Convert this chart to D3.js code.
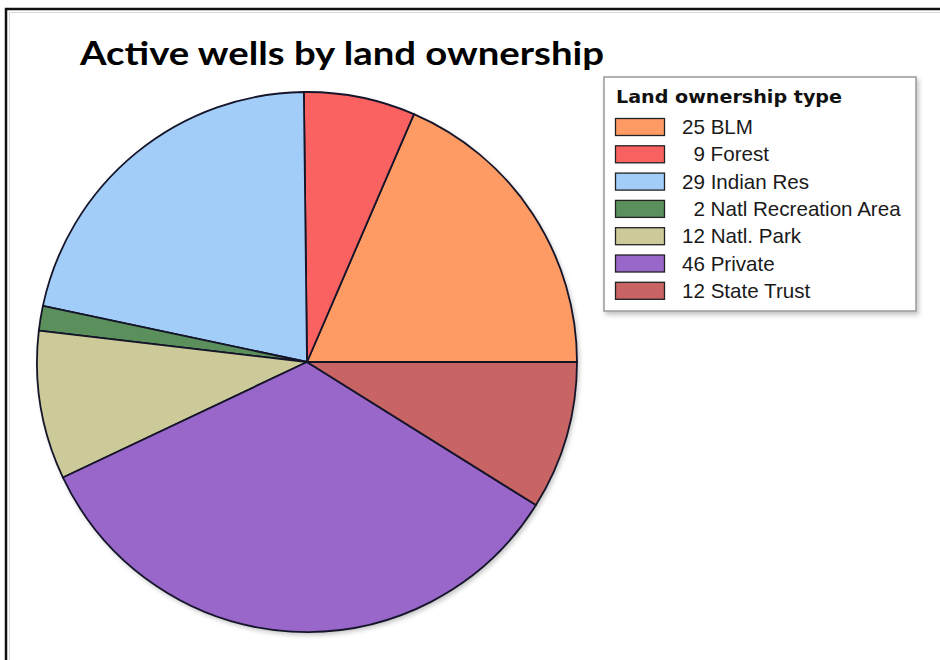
<!DOCTYPE html>
<html>
<head>
<meta charset="utf-8">
<script src="https://cdn.jsdelivr.net/npm/d3@7"></script>
<style>
  html, body { margin: 0; padding: 0; background: #fff; }
  svg { display: block; }
</style>
</head>
<body>
<svg id="chart" width="940" height="660"></svg>
<script>
const title = "Active wells by land ownership";
const legendTitle = "Land ownership type";
const categories = ["BLM", "Forest", "Indian Res", "Natl Recreation Area", "Natl. Park", "Private", "State Trust"];
const values = [25, 9, 29, 2, 12, 46, 12];
const colors = ["#FE9A63", "#FA6262", "#A2CDF9", "#5B8F5C", "#CDCA9A", "#9966CA", "#C96464"];

const svg = d3.select("#chart");
const W = 940, H = 660;

const defs = svg.append("defs");
const f = defs.append("filter").attr("id", "shadow").attr("x", "-10%").attr("y", "-10%").attr("width", "130%").attr("height", "130%");
f.append("feGaussianBlur").attr("in", "SourceAlpha").attr("stdDeviation", 2.5);
f.append("feOffset").attr("dx", 2).attr("dy", 3).attr("result", "ob");
f.append("feComponentTransfer").append("feFuncA").attr("type", "linear").attr("slope", 0.25);
const fm = f.append("feMerge");
fm.append("feMergeNode");
fm.append("feMergeNode").attr("in", "SourceGraphic");

// frame (top and left border)
svg.append("path")
  .attr("d", `M6,${H} L6,9 L${W},9`)
  .attr("fill", "none").attr("stroke", "#111").attr("stroke-width", 2.5);
svg.append("path")
  .attr("d", `M9.5,${H} L9.5,12.5 L${W},12.5`)
  .attr("fill", "none").attr("stroke", "#d8d8d8").attr("stroke-width", 1);

// title
svg.append("text")
  .attr("x", 80).attr("y", 65)
  .attr("font-family", "Lato, 'Open Sans', sans-serif")
  .attr("font-weight", 700)
  .attr("font-size", 32)
  .attr("fill", "#000")
  .attr("textLength", 524)
  .attr("lengthAdjust", "spacingAndGlyphs")
  .text(title);

// pie
const cx = 307, cy = 362, R = 270;
const pie = d3.pie().sort(null).value(d => d)
  .startAngle(Math.PI / 2).endAngle(Math.PI / 2 - 2 * Math.PI);
const arc = d3.arc().innerRadius(0).outerRadius(R);
const g = svg.append("g").attr("transform", `translate(${cx},${cy})`);

g.append("circle").attr("r", R).attr("fill", "#fff").attr("filter", "url(#shadow)");
g.selectAll("path.slice")
  .data(pie(values))
  .join("path")
  .attr("class", "slice")
  .attr("d", arc)
  .attr("fill", (d, i) => colors[i])
  .attr("stroke", "#15152a")
  .attr("stroke-width", 1.8)
  .attr("stroke-linejoin", "round");

// legend
const lx = 604, ly = 77, lw = 312, lh = 234;
const lg = svg.append("g");
lg.append("rect")
  .attr("x", lx).attr("y", ly).attr("width", lw).attr("height", lh)
  .attr("fill", "#fff").attr("stroke", "#999").attr("stroke-width", 1.5)
  .attr("filter", "url(#shadow)");
lg.append("text")
  .attr("x", 616).attr("y", 103)
  .attr("font-family", "'DejaVu Sans', Verdana, sans-serif")
  .attr("font-weight", 700).attr("font-size", 17)
  .attr("fill", "#111")
  .attr("textLength", 226)
  .attr("lengthAdjust", "spacingAndGlyphs")
  .text(legendTitle);

const rows = lg.selectAll("g.row")
  .data(categories)
  .join("g")
  .attr("class", "row")
  .attr("transform", (d, i) => `translate(0, ${118 + i * 27.3})`);
rows.append("rect")
  .attr("x", 615.5).attr("y", 0.5).attr("width", 49).attr("height", 17)
  .attr("fill", (d, i) => colors[i])
  .attr("stroke", "#222").attr("stroke-width", 1.3);
rows.append("text")
  .attr("x", 682).attr("y", 16)
  .attr("font-family", "'Liberation Sans', Arial, sans-serif")
  .attr("font-size", 20.6)
  .attr("fill", "#1a1a1a")
  .attr("xml:space", "preserve")
  .style("white-space", "pre")
  .text((d, i) => (values[i] < 10 ? "  " : "") + values[i] + " " + d);
</script>
</body>
</html>
